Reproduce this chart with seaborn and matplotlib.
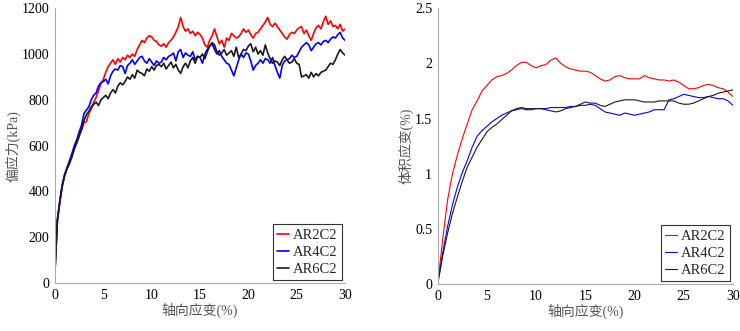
import numpy as np
import pandas as pd
import seaborn as sns
import matplotlib
matplotlib.use('Agg')
import matplotlib.pyplot as plt

names = ['AR2C2', 'AR4C2', 'AR6C2']
colors = ['#ff0000', '#0000ff', '#1a1a1a']

# left panel: deviator stress (kPa), sampled every 0.25 % axial strain
strain_q = np.arange(0, 30.01, 0.25)
q_ar2 = [60, 270, 350, 420, 470, 500, 520, 555,
         590, 610, 640, 670, 700, 705, 740, 760,
         790, 810, 840, 870, 890, 920, 945, 960,
         975, 955, 980, 965, 985, 975, 995, 985,
         1000, 990, 1020, 1040, 1060, 1050, 1070, 1080,
         1075, 1060, 1055, 1040, 1035, 1045, 1030, 1050,
         1060, 1075, 1095, 1120, 1160, 1120, 1100, 1110,
         1090, 1100, 1080, 1095, 1085, 1070, 1040, 1030,
         1060, 1080, 1110, 1075, 1045, 1060, 1030, 1070,
         1060, 1090, 1080, 1070, 1075, 1090, 1110, 1095,
         1105, 1085, 1070, 1090, 1095, 1110, 1125, 1140,
         1160, 1130, 1120, 1135, 1120, 1105, 1090, 1075,
         1065, 1085, 1095, 1090, 1105, 1115, 1120, 1090,
         1105, 1080, 1060, 1090, 1115, 1125, 1110, 1140,
         1165, 1130, 1145, 1120, 1125, 1110, 1130, 1100,
         1110]
q_ar4 = [50, 280, 360, 430, 475, 505, 535, 565,
         600, 625, 660, 690, 740, 755, 770, 800,
         820, 830, 860, 875, 880, 890, 870, 905,
         925, 935, 930, 950, 945, 915, 950, 960,
         975, 955, 970, 985, 990, 970, 960, 980,
         965, 950, 970, 960, 965, 985, 975, 990,
         995, 1005, 970, 1010, 1020, 985, 1005, 995,
         990, 1010, 975, 990, 985, 960, 1000, 1020,
         1035, 1045, 1020, 1000, 1015, 990, 975, 960,
         955, 930, 905, 940, 975, 1000, 985, 1005,
         1000, 970, 930, 950, 960, 975, 960, 980,
         975, 960, 985, 950, 920, 895, 950, 970,
         975, 980, 995, 985, 990, 1010, 1030, 1040,
         1050, 1040, 1015, 1030, 1045, 1050, 1040, 1055,
         1060, 1050, 1065, 1075, 1070, 1085, 1095, 1070,
         1060]
q_ar6 = [55, 275, 355, 425, 470, 500, 525, 550,
         585, 615, 645, 670, 710, 735, 750, 770,
         780, 790, 775, 800, 810, 820, 805, 830,
         845, 830, 860, 875, 865, 880, 900, 890,
         910, 895, 930, 920, 915, 905, 935, 925,
         945, 930, 950, 955, 945, 960, 935, 950,
         965, 940, 955, 930, 915, 945, 960, 940,
         970, 985, 960, 990, 985, 1000, 980, 1010,
         1035, 1050, 1040, 1010, 995, 1005, 1020, 995,
         1005, 1015, 990, 1030, 985, 1000, 1020, 1015,
         1035, 1045, 1010, 1030, 1000, 1015, 995, 1040,
         1005, 980, 960, 970, 965, 950, 975, 990,
         975, 960, 965, 980, 960, 955, 900, 905,
         910, 895, 920, 900, 915, 905, 920, 925,
         930, 945, 960, 955, 975, 1000, 1020, 1005,
         995]

# right panel: volumetric strain (%), sampled every 0.5 % axial strain
strain_v = np.arange(0, 30.01, 0.5)
v_ar2 = [0.0, 0.40, 0.76, 1.00, 1.17, 1.32, 1.45, 1.58, 1.66, 1.75,
         1.80, 1.85, 1.88, 1.89, 1.91, 1.94, 1.98, 2.01, 2.01, 1.98,
         1.96, 1.98, 1.99, 2.03, 2.05, 2.00, 1.97, 1.95, 1.94, 1.93,
         1.93, 1.92, 1.89, 1.86, 1.84, 1.85, 1.88, 1.89, 1.87, 1.86,
         1.86, 1.86, 1.89, 1.87, 1.86, 1.85, 1.85, 1.84, 1.85, 1.83,
         1.80, 1.77, 1.77, 1.78, 1.80, 1.81, 1.80, 1.78, 1.77, 1.74,
         1.70]
v_ar4 = [0.0, 0.28, 0.52, 0.72, 0.88, 1.01, 1.12, 1.24, 1.34, 1.39,
         1.43, 1.47, 1.50, 1.53, 1.55, 1.57, 1.58, 1.59, 1.58, 1.58,
         1.59, 1.59, 1.59, 1.60, 1.60, 1.60, 1.60, 1.61, 1.61, 1.62,
         1.62, 1.63, 1.62, 1.59, 1.56, 1.55, 1.54, 1.53, 1.55, 1.54,
         1.53, 1.54, 1.55, 1.56, 1.58, 1.58, 1.58, 1.67, 1.68, 1.70,
         1.72, 1.71, 1.70, 1.69, 1.69, 1.70, 1.69, 1.68, 1.68, 1.66,
         1.62]
v_ar6 = [0.0, 0.25, 0.46, 0.64, 0.79, 0.93, 1.06, 1.15, 1.24, 1.31,
         1.38, 1.42, 1.45, 1.49, 1.53, 1.57, 1.59, 1.60, 1.59, 1.59,
         1.59, 1.59, 1.58, 1.57, 1.56, 1.57, 1.59, 1.60, 1.61, 1.63,
         1.65, 1.64, 1.64, 1.62, 1.61, 1.63, 1.65, 1.66, 1.67, 1.67,
         1.67, 1.66, 1.65, 1.65, 1.65, 1.66, 1.66, 1.66, 1.66, 1.64,
         1.63, 1.63, 1.64, 1.66, 1.68, 1.70, 1.71, 1.73, 1.74, 1.75,
         1.76]

q_df = pd.concat([pd.DataFrame({'strain': strain_q, 'value': v, 'sample': n})
                  for n, v in zip(names, [q_ar2, q_ar4, q_ar6])])
v_df = pd.concat([pd.DataFrame({'strain': strain_v, 'value': v, 'sample': n})
                  for n, v in zip(names, [v_ar2, v_ar4, v_ar6])])

sns.set_style('white')
plt.rcParams['font.family'] = ['Liberation Serif', 'Noto Sans CJK SC']
plt.rcParams['font.size'] = 10

fig = plt.figure(figsize=(7.4, 3.31), dpi=100)
ax1 = fig.add_axes([0.0743, 0.145, 0.392, 0.830])
ax2 = fig.add_axes([0.5915, 0.142, 0.399, 0.833])

sns.lineplot(data=q_df, x='strain', y='value', hue='sample', palette=colors,
             linewidth=1.2, ax=ax1)
sns.lineplot(data=v_df, x='strain', y='value', hue='sample', palette=colors,
             linewidth=0.8, ax=ax2)

ax1.set_xlim(0, 30)
ax1.set_ylim(0, 1200)
ax1.set_yticks(range(0, 1201, 200))
ax1.set_ylabel('偏应力(kPa)', color='#555555', labelpad=1)
ax2.set_xlim(0, 30)
ax2.set_ylim(0, 2.5)
ax2.set_yticks([0, 0.5, 1, 1.5, 2, 2.5])
ax2.set_yticklabels(['0', '0.5', '1', '1.5', '2', '2.5'])
ax2.set_ylabel('体积应变(%)', color='#555555', labelpad=1)

for ax in (ax1, ax2):
    ax.set_xticks(range(0, 31, 5))
    ax.set_xlabel('轴向应变(%)', color='#555555', labelpad=1)
    for s in ('top', 'right'):
        ax.spines[s].set_visible(False)
    for s in ('left', 'bottom'):
        ax.spines[s].set_color('#aaaaaa')
        ax.spines[s].set_linewidth(0.8)
    ax.tick_params(direction='in', length=3, width=0.7, color='#aaaaaa',
                   labelsize=10, labelcolor='black', pad=4)
    leg = ax.legend(loc='lower right', frameon=True, fancybox=False,
                    edgecolor='black', handlelength=0.8, handletextpad=0.3,
                    borderpad=0.3, labelspacing=0.25, borderaxespad=0.2,
                    fontsize=10.5)
    leg.get_frame().set_linewidth(0.8)
    leg.set_title(None)

fig.savefig('out.png', dpi=100)
